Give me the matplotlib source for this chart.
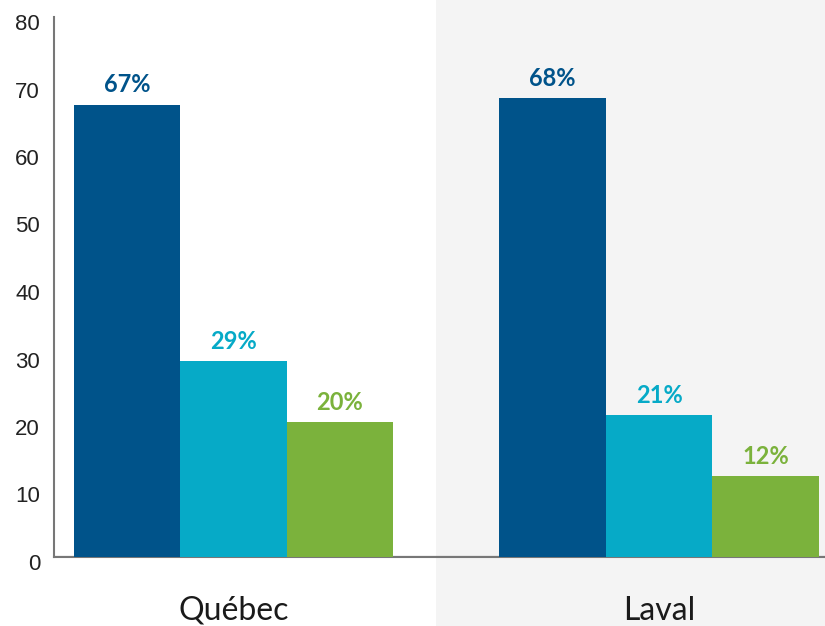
import matplotlib
matplotlib.use("Agg")
import matplotlib.pyplot as plt
from matplotlib.patches import FancyBboxPatch
import matplotlib.transforms as mtransforms
import numpy as np

categories = ["Québec", "Laval"]
series_names = ["S1", "S2", "S3"]
values = {
    "S1": [67, 68],
    "S2": [29, 21],
    "S3": [20, 12],
}
value_labels = {
    "S1": ["67%", "68%"],
    "S2": ["29%", "21%"],
    "S3": ["20%", "12%"],
}
yticks = [0, 10, 20, 30, 40, 50, 60, 70, 80]
colors = ["#00538a", "#06aac7", "#7bb23c"]

fig = plt.figure(figsize=(8.25, 6.26), dpi=100)
fig.patch.set_facecolor("white")

# background axes for the gray panel behind Laval group
bg = fig.add_axes([0, 0, 1, 1], zorder=0)
bg.set_xlim(0, 825)
bg.set_ylim(626, 0)
bg.axis("off")
panel = FancyBboxPatch((436, -30), 420, 686,
                       boxstyle="round,pad=0,rounding_size=22",
                       facecolor="#f4f4f4", edgecolor="none")
bg.add_patch(panel)

ax = fig.add_axes([54 / 825, 1 - 557 / 626, 1 - 54 / 825, (557 - 17) / 626], zorder=1)
ax.set_facecolor("none")

x = np.arange(len(categories))
w = 0.25
for i, s in enumerate(series_names):
    pos = x + (i - 1) * w
    bars = ax.bar(pos, values[s], width=w, color=colors[i], zorder=3, linewidth=0)
    for b, lab in zip(bars, value_labels[s]):
        ax.annotate(lab, (b.get_x() + b.get_width() / 2, b.get_height()),
                    xytext=(0, 6), textcoords="offset points",
                    ha="center", va="bottom", fontsize=17, fontweight="bold",
                    color=colors[i], family=["Lato", "DejaVu Sans"])

ax.set_xlim(-0.4218, 1.39)
ax.set_ylim(0, 80)
ax.set_yticks(yticks)
ax.set_yticklabels([str(t) for t in yticks], fontsize=16,
                   family=["Liberation Sans", "DejaVu Sans"], color="#222222")
ax.tick_params(axis="y", length=0, pad=10)
offset = mtransforms.ScaledTranslation(0, -5 / 100, fig.dpi_scale_trans)
for lab in ax.get_yticklabels():
    lab.set_transform(lab.get_transform() + offset)
ax.set_xticks(x)
ax.set_xticklabels(categories, fontsize=23, family=["Lato", "DejaVu Sans"],
                   color="#1a1a1a")
ax.tick_params(axis="x", length=0, pad=28)

for side in ["top", "right"]:
    ax.spines[side].set_visible(False)
ax.spines["left"].set_color("#777777")
ax.spines["left"].set_linewidth(1.5)
ax.spines["bottom"].set_color("#777777")
ax.spines["bottom"].set_linewidth(1.5)
ax.axhline(0, color="#333333", lw=1.5, zorder=2)

fig.savefig("out.png", dpi=100)
